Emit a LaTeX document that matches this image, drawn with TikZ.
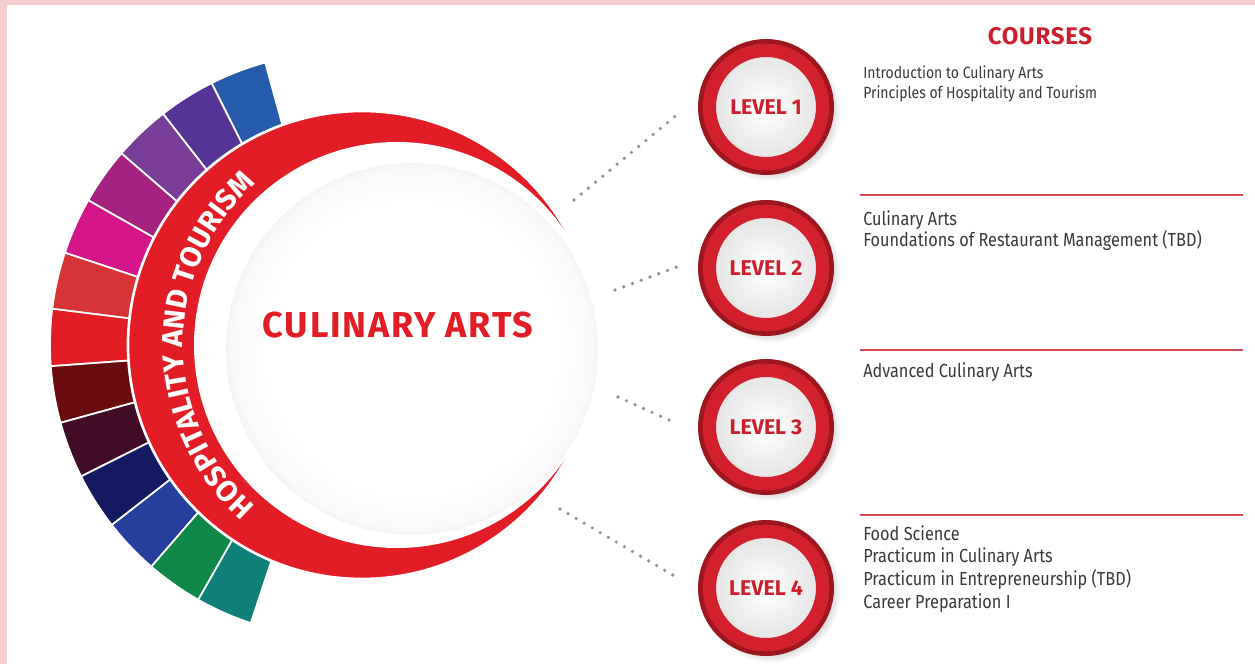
\documentclass[tikz,border=0pt]{standalone}
\usepackage{fontspec}
\setmainfont{Fira Sans}
\newfontfamily\narrowfont[FakeStretch=0.86]{Fira Sans}
\usetikzlibrary{decorations.text,shadows}

\definecolor{framepink}{RGB}{244,205,208}
\definecolor{artred}{RGB}{226,29,38}
\definecolor{lvdark}{RGB}{158,22,30}
\definecolor{lvred}{RGB}{210,33,44}
\definecolor{lvtext}{RGB}{204,30,44}
\definecolor{ruled}{RGB}{214,72,80}
\definecolor{dotgray}{RGB}{145,145,145}
\definecolor{coursegray}{RGB}{58,58,58}
\definecolor{bandA}{RGB}{38,92,171}
\definecolor{bandB}{RGB}{86,52,150}
\definecolor{bandC}{RGB}{122,62,152}
\definecolor{bandD}{RGB}{166,34,128}
\definecolor{bandE}{RGB}{213,22,138}
\definecolor{bandF}{RGB}{214,52,55}
\definecolor{bandH}{RGB}{104,12,14}
\definecolor{bandI}{RGB}{66,12,38}
\definecolor{bandJ}{RGB}{20,26,96}
\definecolor{bandK}{RGB}{36,64,156}
\definecolor{bandL}{RGB}{16,136,72}
\definecolor{bandM}{RGB}{16,128,122}

\pgfdeclareradialshading{plate}{\pgfpoint{0bp}{0bp}}{color(0bp)=(white); color(19bp)=(white); color(24bp)=(gray!5); color(25bp)=(gray!9); color(50bp)=(gray!9)}

\tikzset{
  level/.style={circle, minimum size=85pt, inner sep=0pt, outer sep=0pt,
    circular drop shadow={shadow xshift=2.5pt, shadow yshift=-2.5pt, shadow scale=1.24, opacity=.35},
    preaction={draw=lvdark, line width=17pt},
    inner color=white, outer color=gray!22, draw=lvred, line width=10pt,
    text=lvtext, font=\bfseries\fontsize{16}{18}\selectfont},
  courses/.style={anchor=base west, inner sep=0pt, align=left, text=coursegray},
  dots/.style={draw=dotgray, line width=2.7pt, line cap=round, dash pattern=on 0pt off 7pt},
  rule/.style={draw=ruled, line width=1.5pt}
}

\begin{document}
\begin{tikzpicture}[x=0.75pt,y=0.75pt]
% page and pink edge
\fill[framepink] (0,0) rectangle (1255,664);
\fill[white] (7,0) rectangle (1255,659);

%Shape: coloured band around the ring
\foreach \col [count=\i from 0] in {bandA,bandB,bandC,bandD,bandE,bandF,artred,bandH,bandI,bandJ,bandK,bandL,bandM} {
  \pgfmathsetmacro{\a}{105.4+11.25*\i}
  \pgfmathsetmacro{\b}{\a+11.25}
  \filldraw[fill=\col, draw=white, line width=1.3pt] ({343+200*cos(\a)},{319+200*sin(\a)}) arc[start angle=\a, end angle=\b, radius=200] -- ({343+293*cos(\b)},{319+293*sin(\b)}) arc[start angle=\b, end angle=\a, radius=293] -- cycle;
}

%Shape: red crescent
\filldraw[fill=artred, draw=white, line width=2pt] (362,319) circle[radius=234];
\fill[white] (397,319) circle[radius=203];
%Shape: plate
\shade[shading=plate] (412,315) circle[radius=186];

% Curved label
\path[decorate, decoration={text along path, text align=center, text color=white,
  text={|\bfseries\fontsize{22}{24}\selectfont|HOSPITALITY AND TOURISM}}]
  (262.4,152.7) arc[start angle=231, end angle=129, radius=214];

% Text Node
\node[text=artred, font=\bfseries\fontsize{27}{30}\selectfont\addfontfeature{LetterSpace=5}] (prog) at (398,339) {CULINARY ARTS};
% Text Node
\node[text=lvtext, font=\bfseries\fontsize{18}{20}\selectfont\addfontfeature{LetterSpace=3}] (head) at (1040,628) {COURSES};

%Shape: level circles
\node[level] (l1) at (766,557) {LEVEL 1};
\node[level] (l2) at (766,396) {LEVEL 2};
\node[level] (l3) at (766,237) {LEVEL 3};
\node[level] (l4) at (766,76) {LEVEL 4};

%Straight Lines: dotted links
\coordinate (p1) at (574,464);
\coordinate (p2) at (615,374);
\coordinate (p3) at (618,267);
\coordinate (p4) at (560,155);
\draw[dots, shorten >=36pt] (p1) -- (l1.156.5);
\draw[dots, shorten >=27pt] (p2) -- (l2.166);
\draw[dots, shorten >=27.8pt] (p3) -- (l3.192.6);
\draw[dots, shorten >=27pt] (p4) -- (l4.189.4);

%Straight Lines: separators
\draw[rule] (860,469) -- (1243,469);
\draw[rule] (860,314) -- (1243,314);
\draw[rule] (860,149) -- (1243,149);

% Text Node (base is the last line)
\node[courses, font=\narrowfont\fontsize{12.2}{15}\selectfont] (c1) at (863,565) {Introduction to Culinary Arts\\Principles of Hospitality and Tourism};
% Text Node
\node[courses, font=\narrowfont\fontsize{14.2}{15.8}\selectfont] (c2) at (863,417) {Culinary Arts\\Foundations of Restaurant Management (TBD)};
% Text Node
\node[courses, font=\narrowfont\fontsize{14.2}{17}\selectfont] (c3) at (863,286) {Advanced Culinary Arts};
% Text Node
\node[courses, font=\narrowfont\fontsize{14.2}{17}\selectfont] (c4) at (863,56) {Food Science\\Practicum in Culinary Arts\\Practicum in Entrepreneurship (TBD)\\Career Preparation I};
\end{tikzpicture}
\end{document}
